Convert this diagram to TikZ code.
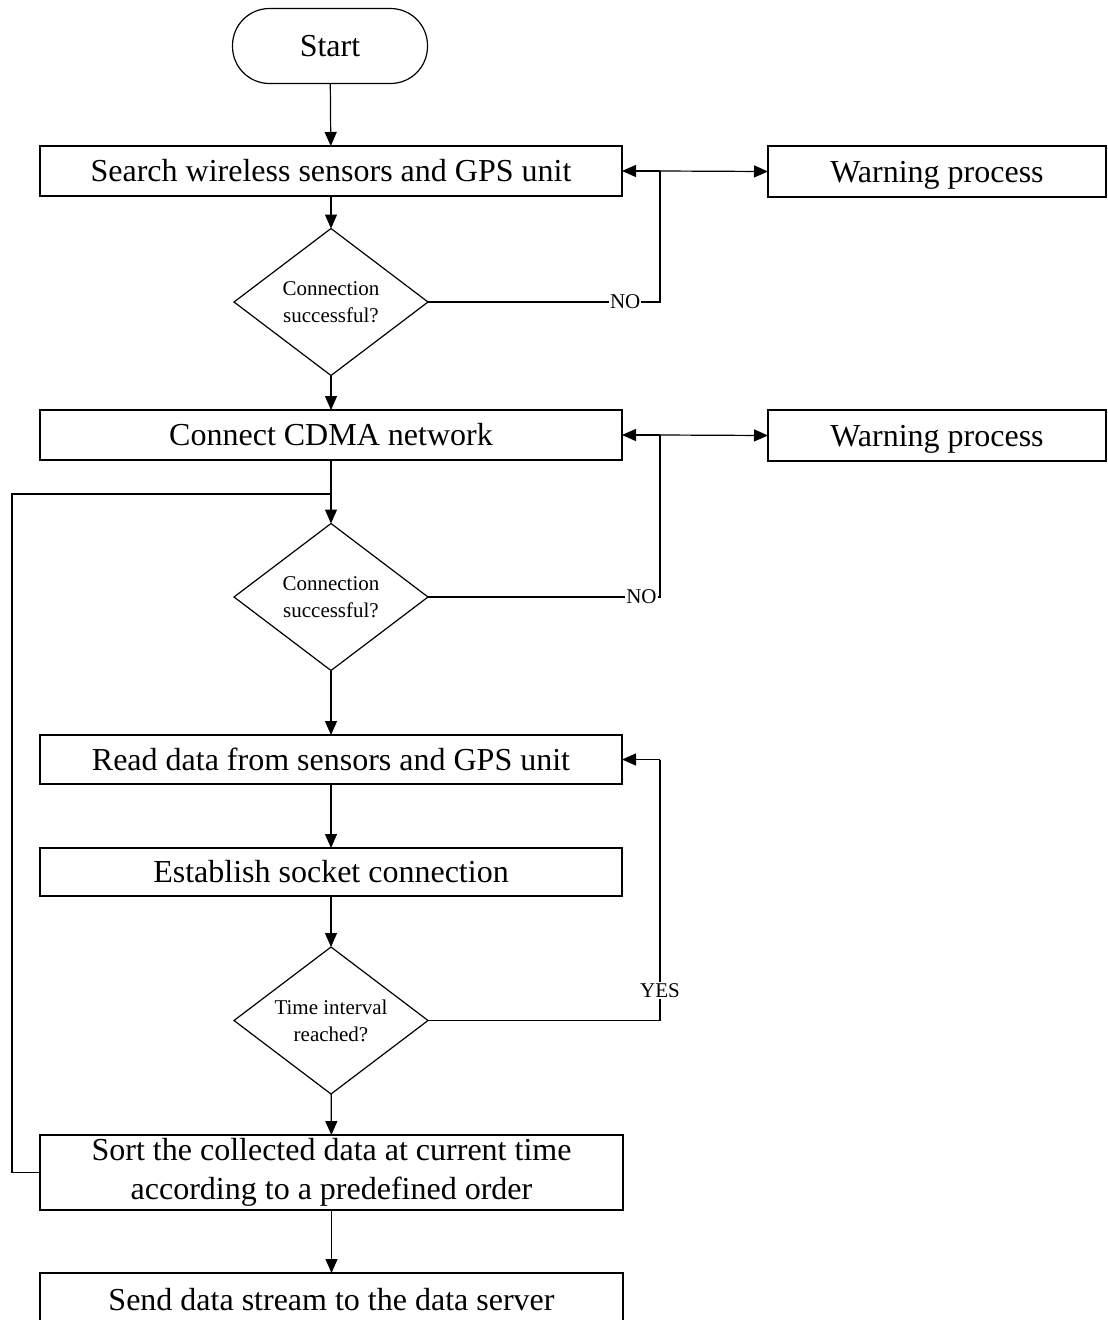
\documentclass[tikz,border=0pt]{standalone}
\usepackage{fontspec}
\setmainfont{Liberation Serif}
\usetikzlibrary{shapes.geometric,arrows.meta}
\begin{document}
\begin{tikzpicture}[x=1pt,y=-1pt,
  line width=1.2pt,
  every node/.style={inner sep=0pt,outer sep=0pt},
  flowbox/.style={draw,rectangle,minimum width=582pt,minimum height=50pt,
    font=\fontsize{32}{39}\selectfont,align=center},
  sidebox/.style={draw,rectangle,minimum width=338pt,minimum height=51pt,
    text depth=0pt,font=\fontsize{32}{39}\selectfont},
  terminal/.style={draw,rectangle,rounded corners=37pt,minimum width=195pt,
    minimum height=75pt,font=\fontsize{32}{39}\selectfont},
  decision/.style={draw,diamond,aspect=1.32,minimum width=194pt,minimum height=147pt,
    font=\fontsize{21}{27}\selectfont,align=center},
  lbl/.style={fill=white,inner sep=1pt,font=\fontsize{21}{25}\selectfont},
  flow/.style={-{Triangle[length=14pt,width=12pt]}}]
\useasboundingbox (0,0) rectangle (1108,1320);
\clip (0,0) rectangle (1108,1320);

% process steps
\node[terminal] (start) at (330,46) {Start};
\node[flowbox] (search) at (331,171) {Search wireless sensors and GPS unit};
\node[sidebox] (warn1) at (937,171.5) {Warning process};
\node[decision] (conn1) at (331,302) {Connection\\successful?};
\node[flowbox] (cdma) at (331,435) {Connect CDMA network};
\node[sidebox] (warn2) at (937,435.5) {Warning process};
\node[decision] (conn2) at (331,597) {Connection\\successful?};
\node[flowbox,minimum height=49pt] (read) at (331,759.5) {Read data from sensors and GPS unit};
\node[flowbox,minimum height=48pt] (sock) at (331,872) {Establish socket connection};
\node[decision] (timer) at (331,1020.5) {Time interval\\reached?};
\node[flowbox,minimum width=583pt,minimum height=75pt] (sort) at (331.5,1172.5)
  {Sort the collected data at current time\\according to a predefined order};
\node[flowbox,minimum width=583pt,minimum height=54pt] (send) at (331.5,1300)
  {Send data stream to the data server};

% junctions and bends
\coordinate (j1) at (660,171);
\coordinate (j2) at (660,435);
\coordinate (j3) at (660,759.5);
\coordinate (split) at (331,494);
\coordinate (loopA) at (12,494);
\coordinate (loopB) at (12,1172.5);

% main flow
\draw[flow] (start) -- (search);
\draw[flow] (search) -- (conn1);
\draw[flow] (conn1) -- (cdma);
\draw (cdma) -- (split);
\draw[flow] (split) -- (conn2);
\draw[flow] (conn2) -- (read);
\draw[flow] (read) -- (sock);
\draw[flow] (sock) -- (timer);
\draw[flow] (timer) -- (sort);
\draw[flow] (sort) -- (send);

% failure branches
\draw (conn1.east) -- node[lbl,pos=0.85] {NO} (conn1.east -| j1) -- (j1);
\draw[flow] (j1) -- (search.east);
\draw[flow] (j1) -- (warn1.west);
\draw (conn2.east) -- node[lbl,pos=0.92] {NO} (conn2.east -| j2) -- (j2);
\draw[flow] (j2) -- (cdma.east);
\draw[flow] (j2) -- (warn2.west);

% repeat reading until the interval is reached
\draw (timer.east) -- (timer.east -| j3) -- node[lbl,pos=0.115] {YES} (j3);
\draw[flow] (j3) -- (read.east);

% loop back from the network step
\draw (split) -- (loopA) -- (loopB) -- (sort.west);
\end{tikzpicture}
\end{document}
